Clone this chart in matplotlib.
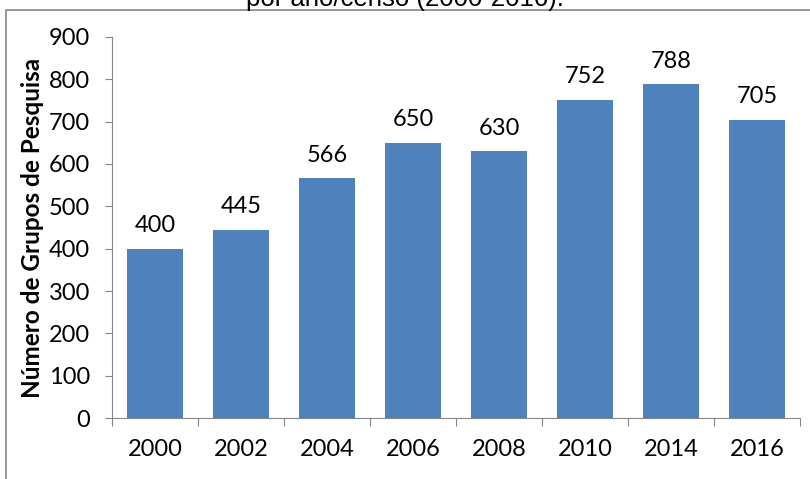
import matplotlib
matplotlib.use('Agg')
import matplotlib.pyplot as plt
from matplotlib.patches import Rectangle
import numpy as np

years = ['2000', '2002', '2004', '2006', '2008', '2010', '2014', '2016']
groups = [400, 445, 566, 650, 630, 752, 788, 705]
yticks = [0, 100, 200, 300, 400, 500, 600, 700, 800, 900]

plt.rcParams['font.family'] = ['Lato', 'DejaVu Sans']

fig = plt.figure(figsize=(8.1, 4.79), dpi=100)
ax = fig.add_axes([0.1383, 0.1273, 0.8494, 0.7955])

# Outer chart frame (cropped by the image edges)
fig.patches.append(Rectangle((0.007, -0.05), 1.1, 1.029, transform=fig.transFigure,
                             fill=False, edgecolor='#868686', linewidth=1.2))
fig.text(0.5, 1 - 6 / 479, 'por ano/censo (2000-2016).', ha='center', va='baseline',
         fontsize=18.5, family='Liberation Sans')

x = np.arange(len(years))
ax.bar(x, groups, width=0.66, color='#4F81BD')
for xi, v in zip(x, groups):
  ax.annotate(str(v), (xi, v), xytext=(0, 12), textcoords='offset points',
              ha='center', va='baseline', fontsize=17)

ax.set_xlim(-0.5, len(years) - 0.5)
ax.set_ylim(0, 900)
ax.set_yticks(yticks)
ax.set_yticklabels([str(t) for t in yticks], fontsize=17)

# Tick marks between categories, labels at centres
ax.set_xticks(np.arange(len(years) + 1) - 0.5)
ax.set_xticklabels([])
ax.set_xticks(x, minor=True)
ax.set_xticklabels(years, minor=True, fontsize=17)
ax.tick_params(axis='x', which='major', direction='out', length=6, color='#868686')
ax.tick_params(axis='x', which='minor', length=0, pad=15)
ax.tick_params(axis='y', direction='out', length=5, color='#868686', pad=11)

for s in ['top', 'right']:
  ax.spines[s].set_visible(False)
for s in ['left', 'bottom']:
  ax.spines[s].set_color('#868686')

ax.set_ylabel('Número de Grupos de Pesquisa', fontsize=17.5, fontweight='bold',
              labelpad=3)

fig.savefig('out.png', dpi=100)
